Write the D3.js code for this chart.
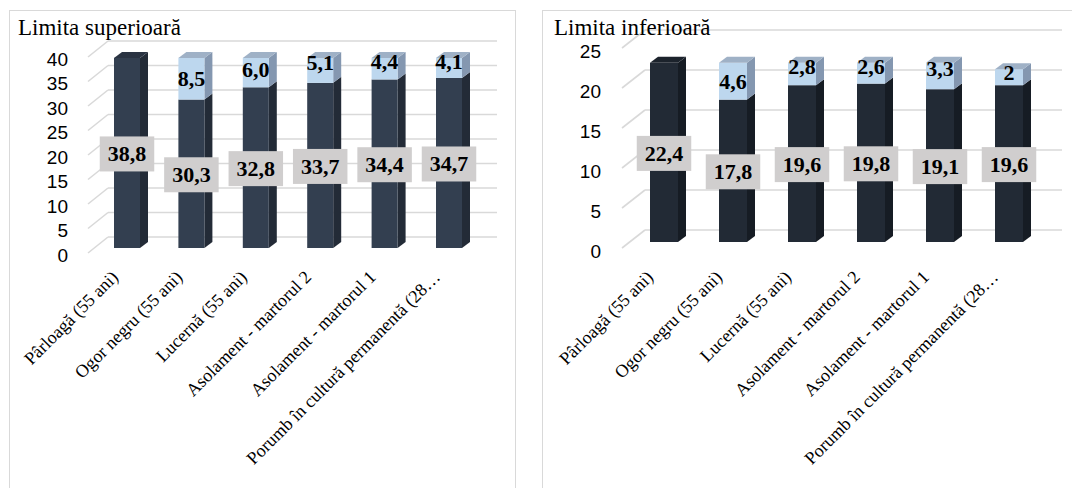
<!DOCTYPE html>
<html>
<head>
<meta charset="utf-8">
<script src="https://cdn.jsdelivr.net/npm/d3@7"></script>
<style>
  html, body { margin: 0; padding: 0; background: #ffffff; }
  svg { display: block; }
</style>
</head>
<body>
<svg id="chart" width="1072" height="488"></svg>
<script>
// ---------- data ----------
const categories = [
  "Pârloagă (55 ani)",
  "Ogor negru (55 ani)",
  "Lucernă (55 ani)",
  "Asolament - martorul 2",
  "Asolament - martorul 1",
  "Porumb în cultură permanentă (28…"
];
const upperBase = [38.8, 30.3, 32.8, 33.7, 34.4, 34.7];
const upperDiff = [0, 8.5, 6.0, 5.1, 4.4, 4.1];
const upperBaseText = ["38,8", "30,3", "32,8", "33,7", "34,4", "34,7"];
const upperDiffText = ["", "8,5", "6,0", "5,1", "4,4", "4,1"];
const upperTicks = [0, 5, 10, 15, 20, 25, 30, 35, 40];

const lowerBase = [22.4, 17.8, 19.6, 19.8, 19.1, 19.6];
const lowerDiff = [0, 4.6, 2.8, 2.6, 3.3, 2];
const lowerBaseText = ["22,4", "17,8", "19,6", "19,8", "19,1", "19,6"];
const lowerDiffText = ["", "4,6", "2,8", "2,6", "3,3", "2"];
const lowerTicks = [0, 5, 10, 15, 20, 25];

const titles = ["Limita superioară", "Limita inferioară"];

// ---------- drawing ----------
const svg = d3.select("#chart");
const SERIF = "'Liberation Serif', 'Times New Roman', Times, serif";

function drawPanel(cfg) {
  const g = svg.append("g");
  g.append("rect")
    .attr("x", cfg.panel[0] + 0.5).attr("y", cfg.panel[1] + 0.5)
    .attr("width", cfg.panel[2]).attr("height", cfg.panel[3])
    .attr("fill", "#ffffff").attr("stroke", "#d9d9d9").attr("stroke-width", 1);

  const y = d3.scaleLinear().domain([0, cfg.max]).range([cfg.yBottom, cfg.yTop]);
  const x = d3.scalePoint().domain(categories).range([cfg.c0, cfg.c1]);
  const bw = cfg.barWidth, dx = cfg.depthX, dy = cfg.depthY;

  g.selectAll("line.grid").data(cfg.ticks).enter().append("line")
    .attr("x1", cfg.wallX0).attr("x2", cfg.wallX1)
    .attr("y1", d => y(d) - cfg.wallShift).attr("y2", d => y(d) - cfg.wallShift)
    .attr("stroke", "#d9d9d9").attr("stroke-width", 1.6);
  g.selectAll("line.diag").data(cfg.ticks).enter().append("line")
    .attr("x1", cfg.diagX0).attr("y1", d => y(d) + cfg.diagDrop)
    .attr("x2", cfg.wallX0).attr("y2", d => y(d) - cfg.wallShift)
    .attr("stroke", "#d9d9d9").attr("stroke-width", 1.6);

  g.selectAll("text.tick").data(cfg.ticks).enter().append("text")
    .attr("x", cfg.tickX).attr("y", d => y(d) + cfg.tickDrop)
    .attr("text-anchor", "end").attr("dominant-baseline", "central")
    .attr("font-family", "'Liberation Sans', Arial, sans-serif")
    .attr("font-size", 19).attr("fill", "#000")
    .text(d => d);

  g.append("text")
    .attr("x", cfg.titleX).attr("y", cfg.titleY)
    .attr("font-family", SERIF)
    .attr("font-size", 23).attr("fill", "#000")
    .text(cfg.title);

  function box(sel, v0, v1, colors, withTop) {
    const xc = x(sel.datum());
    const xl = xc - bw / 2, xr = xc + bw / 2;
    const yb = y(v0), yt = y(v1);
    sel.append("polygon")
      .attr("points", [[xr, yt], [xr + dx, yt + dy], [xr + dx, yb + dy], [xr, yb]].join(" "))
      .attr("fill", colors.side);
    sel.append("rect")
      .attr("x", xl).attr("width", bw)
      .attr("y", yt).attr("height", yb - yt)
      .attr("fill", colors.front);
    if (withTop) {
      sel.append("polygon")
        .attr("points", [[xl, yt], [xl + dx, yt + dy], [xr + dx, yt + dy], [xr, yt]].join(" "))
        .attr("fill", colors.top);
    }
  }

  const bars = g.selectAll("g.bar").data(categories).enter().append("g");
  bars.each(function(d, i) {
    const sel = d3.select(this);
    const hasDiff = cfg.diffText[i] !== "";
    box(sel, 0, cfg.base[i], cfg.dark, !hasDiff);
    if (hasDiff) box(sel, cfg.base[i], cfg.base[i] + cfg.diff[i], cfg.light, true);
  });

  // boxed labels for the base segment
  bars.each(function(d, i) {
    const sel = d3.select(this);
    const cy = y(cfg.base[i] / 2) + 1;
    const t = sel.append("text")
      .attr("x", x(d)).attr("y", cy)
      .attr("text-anchor", "middle").attr("dominant-baseline", "central")
      .attr("font-family", SERIF)
      .attr("font-weight", "bold").attr("font-size", 22).attr("fill", "#000")
      .text(cfg.baseText[i]);
    const bb = t.node().getBBox();
    sel.insert("rect", () => t.node())
      .attr("x", x(d) - (bb.width + 16) / 2).attr("width", bb.width + 16)
      .attr("y", cy - 17.5).attr("height", 35)
      .attr("fill", "#d0cece");
  });

  // labels for the difference segment
  bars.each(function(d, i) {
    if (cfg.diffText[i] === "") return;
    const yt = y(cfg.base[i] + cfg.diff[i]);
    const segH = y(cfg.base[i]) - yt;
    const off = segH > 34 ? segH / 2 : (segH > 27 ? segH / 2 - 3 : Math.max(3.5, segH / 2 - 8));
    d3.select(this).append("text")
      .attr("x", x(d)).attr("y", yt + off)
      .attr("text-anchor", "middle").attr("dominant-baseline", "central")
      .attr("font-family", SERIF)
      .attr("font-weight", "bold").attr("font-size", 22).attr("fill", "#000")
      .text(cfg.diffText[i]);
  });

  // category labels
  g.selectAll("text.cat").data(categories).enter().append("text")
    .attr("transform", d => `translate(${x(d) - cfg.catShift},${cfg.catY}) rotate(-45)`)
    .attr("text-anchor", "end").attr("dy", "0.72em")
    .attr("font-family", SERIF)
    .attr("font-size", 18).attr("fill", "#000")
    .text(d => d);
}

drawPanel({
  panel: [9, 10, 506, 490],
  title: titles[0], titleX: 18, titleY: 35,
  max: 40, ticks: upperTicks,
  yBottom: 248, yTop: 52,
  c0: 127, c1: 449, barWidth: 26, depthX: 8, depthY: -6,
  wallShift: 11, wallX0: 108, wallX1: 497,
  diagX0: 88, diagDrop: 5,
  tickX: 68, tickDrop: 7,
  catY: 269, catShift: 17,
  base: upperBase, diff: upperDiff, baseText: upperBaseText, diffText: upperDiffText,
  dark: { front: "#333f50", side: "#232b37", top: "#2a3342" },
  light: { front: "#bdd7ee", side: "#8497b0", top: "#9fb1c6" }
});

drawPanel({
  panel: [542, 10, 540, 490],
  title: titles[1], titleX: 554, titleY: 35,
  max: 25, ticks: lowerTicks,
  yBottom: 242, yTop: 42,
  c0: 664, c1: 1009, barWidth: 28, depthX: 8, depthY: -6,
  wallShift: 12, wallX0: 645, wallX1: 1062,
  diagX0: 622, diagDrop: 6,
  tickX: 601, tickDrop: 9,
  catY: 269, catShift: 19,
  base: lowerBase, diff: lowerDiff, baseText: lowerBaseText, diffText: lowerDiffText,
  dark: { front: "#222a35", side: "#161c24", top: "#1c232c" },
  light: { front: "#bdd7ee", side: "#8497b0", top: "#9fb1c6" }
});
</script>
</body>
</html>
